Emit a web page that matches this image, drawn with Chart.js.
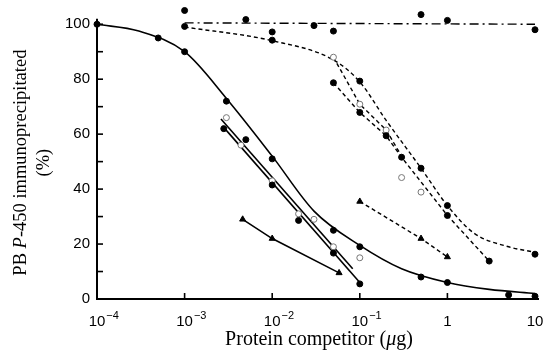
<!DOCTYPE html>
<html>
<head>
<meta charset="utf-8">
<script src="https://cdn.jsdelivr.net/npm/chart.js@4.4.1/dist/chart.umd.min.js"></script>
<style>
  html, body { margin: 0; background: #fff; }
  #wrap { width: 547px; height: 352px; }
</style>
</head>
<body>
<div id="wrap"><canvas id="chart"></canvas></div>
<script>
// --- data (x in µg, y in %) ---
// solid fitted curve + its filled points
const fitX = [1e-4, 3e-4, 1e-3, 3e-3, 1e-2, 3e-2, 0.1, 0.3, 1, 3, 10];
const fitY = [100, 97.5, 90, 73, 52, 32, 19.5, 11, 6, 3.5, 2];
const sigX = [1e-4, 5e-4, 1e-3, 3e-3, 5e-3, 1e-2, 5e-2, 0.1, 0.5, 1, 5, 10];
const sigY = [100, 95, 90, 72, 58, 51, 25, 19, 8, 6, 1.5, 1];

// solid straight lines
const lineAX = [2.7e-3, 0.1];
const lineAY = [63, 6];
const lineAPtsX = [2.8e-3, 1e-2, 2e-2, 5e-2, 0.1];
const lineAPtsY = [62, 41.5, 28.6, 16.7, 5.5];
const lineBX = [2.6e-3, 0.083];
const lineBY = [65.5, 11];
const openX = [3e-3, 4.4e-3, 1e-2, 2e-2, 3e-2, 5e-2, 0.1];
const openY = [66, 56, 43, 31, 29, 19, 15];
const triX = [4.6e-3, 1e-2, 0.058];
const triY = [29, 22, 9.5];

// dash-dot line at 100 %
const ddX = [1e-3, 10];
const ddY = [100.5, 100];
const ddPtsX = [1e-3, 5e-3, 1e-2, 3e-2, 5e-2, 0.5, 1, 10];
const ddPtsY = [105, 101.7, 97.2, 99.5, 97.5, 103.5, 101.4, 98];

// dashed curves
const dcX = [1e-3, 1e-2, 0.05, 0.1, 0.2, 0.5, 1, 2, 5, 10];
const dcY = [99, 94, 87, 79, 65, 47.6, 34, 24, 19, 17];
const dcPtsX = [1e-3, 1e-2, 0.1, 0.5, 1, 10];
const dcPtsY = [99.2, 94.2, 79.3, 47.6, 34, 16.3];
const daX = [0.05, 0.1, 0.2, 0.3, 1, 3];
const daY = [78.7, 67.9, 59.4, 51.6, 30.4, 13.8];
const dbX = [0.05, 0.1, 0.2, 0.3];
const dbY = [88, 70.9, 61.5, 52];
const dbOpenX = [0.05, 0.1, 0.2, 0.3, 0.5];
const dbOpenY = [88, 70.9, 61.5, 44.2, 38.9];
const dtX = [0.1, 0.5, 1];
const dtY = [35.5, 22, 15.3];

const xTicks = [1e-4, 1e-3, 1e-2, 1e-1, 1, 10];
const xTickBase = ['10', '10', '10', '10', '1', '10'];
const xTickExp = ['\u22124', '\u22123', '\u22122', '\u22121', '', ''];
const yTicks = [0, 10, 20, 30, 40, 50, 60, 70, 80, 90, 100];

const pts = (xs, ys) => xs.map((x, i) => ({ x, y: ys[i] }));

const line = (data, dash, extra) => Object.assign({
    data, borderColor: '#000', borderWidth: 1.6, borderDash: dash,
    pointRadius: 0, fill: false, clip: false, order: 2
}, extra || {});
const marks = (data, style, extra) => Object.assign({
    data, showLine: false, pointStyle: style, pointRadius: 3,
    pointBackgroundColor: '#000', pointBorderColor: '#000', pointBorderWidth: 1,
    clip: false, order: 1
}, extra || {});

const axesPlugin = {
    id: 'axesText',
    afterDraw(chart) {
        const ctx = chart.ctx;
        const xs = chart.scales.x, ys = chart.scales.y;
        const x0 = xs.left, y0 = ys.getPixelForValue(0);
        ctx.save();
        ctx.strokeStyle = '#000';
        // axis lines
        ctx.lineWidth = 2;
        ctx.beginPath();
        ctx.moveTo(x0, ys.getPixelForValue(102));
        ctx.lineTo(x0, y0);
        ctx.lineTo(xs.right + 4, y0);
        ctx.stroke();
        // inward ticks
        ctx.lineWidth = 1.6;
        xTicks.forEach(v => {
            const px = xs.getPixelForValue(v);
            ctx.beginPath(); ctx.moveTo(px, y0); ctx.lineTo(px, y0 - 6); ctx.stroke();
        });
        yTicks.forEach(v => {
            const py = ys.getPixelForValue(v);
            ctx.beginPath(); ctx.moveTo(x0, py); ctx.lineTo(x0 + 6, py); ctx.stroke();
        });
        // x tick labels with superscripts
        ctx.fillStyle = '#000';
        ctx.textBaseline = 'alphabetic';
        xTicks.forEach((v, i) => {
            const px = xs.getPixelForValue(v);
            ctx.font = '15px "Liberation Sans", Arial, sans-serif';
            const w = ctx.measureText(xTickBase[i]).width;
            ctx.textAlign = 'left';
            ctx.fillText(xTickBase[i], px - w / 2, y0 + 27);
            if (xTickExp[i]) {
                ctx.font = '11px "Liberation Sans", Arial, sans-serif';
                ctx.fillText(xTickExp[i], px + w / 2 + 1, y0 + 20);
            }
        });
        // titles, mixed roman / italic runs
        const drawRuns = (runs, cx, cy) => {
            let total = 0;
            runs.forEach(r => { ctx.font = r[1]; total += ctx.measureText(r[0]).width; });
            let x = cx - total / 2;
            ctx.textAlign = 'left';
            runs.forEach(r => { ctx.font = r[1]; ctx.fillText(r[0], x, cy); x += ctx.measureText(r[0]).width; });
        };
        const serif = '"Liberation Serif", "Times New Roman", serif';
        ctx.textBaseline = 'middle';
        drawRuns([
            ['Protein competitor (', '20px ' + serif],
            ['\u03bc', 'italic 20px ' + serif],
            ['g)', '20px ' + serif]
        ], (xs.left + xs.right) / 2 + 3, 340);
        ctx.translate(0, (ys.getPixelForValue(0) + ys.getPixelForValue(100)) / 2 + 1);
        ctx.rotate(-Math.PI / 2);
        drawRuns([
            ['PB ', '18.5px ' + serif],
            ['P', 'italic 18.5px ' + serif],
            ['-450 immunoprecipitated', '18.5px ' + serif]
        ], 0, 21);
        drawRuns([['(%)', '18.5px ' + serif]], 0, 44);
        ctx.restore();
    }
};

new Chart(document.getElementById('chart'), {
    type: 'line',
    data: {
        datasets: [
            line(pts(fitX, fitY), [], { cubicInterpolationMode: 'monotone' }),
            marks(pts(sigX, sigY), 'circle'),
            line(pts(lineAX, lineAY), []),
            marks(pts(lineAPtsX, lineAPtsY), 'circle'),
            line(pts(lineBX, lineBY), []),
            marks(pts(openX, openY), 'circle', { pointBackgroundColor: '#fff', pointBorderColor: '#777' }),
            line(pts(triX, triY), []),
            marks(pts(triX, triY), 'triangle', { pointRadius: 3.5 }),
            line(pts(ddX, ddY), [9, 4, 2, 4], { borderWidth: 1.4 }),
            marks(pts(ddPtsX, ddPtsY), 'circle'),
            line(pts(dcX, dcY), [4, 3], { cubicInterpolationMode: 'monotone', borderWidth: 1.4 }),
            marks(pts(dcPtsX, dcPtsY), 'circle'),
            line(pts(daX, daY), [4, 3], { borderWidth: 1.4 }),
            marks(pts(daX, daY), 'circle'),
            line(pts(dbX, dbY), [4, 3], { borderWidth: 1.4 }),
            marks(pts(dbOpenX, dbOpenY), 'circle', { pointBackgroundColor: '#fff', pointBorderColor: '#777' }),
            line(pts(dtX, dtY), [4, 3], { borderWidth: 1.4 }),
            marks(pts(dtX, dtY), 'triangle', { pointRadius: 3.5 })
        ]
    },
    options: {
        responsive: true,
        maintainAspectRatio: false,
        animation: false,
        layout: { padding: { left: 0, right: 12, top: 4, bottom: 0 } },
        plugins: { legend: { display: false }, tooltip: { enabled: false } },
        scales: {
            x: {
                type: 'logarithmic', min: 1e-4, max: 10,
                ticks: { display: false },
                grid: { display: false, drawTicks: false },
                border: { display: false },
                afterFit: s => { s.height = 53; s.paddingLeft = 0; s.paddingRight = 0; }
            },
            y: {
                min: 0, max: 107,
                ticks: {
                    stepSize: 20, includeBounds: false, color: '#000', padding: 7,
                    font: { family: '"Liberation Sans", Arial, sans-serif', size: 15 }
                },
                grid: { display: false, drawTicks: false },
                border: { display: false },
                afterFit: s => { s.width = 97; s.paddingTop = 0; s.paddingBottom = 0; }
            }
        }
    },
    plugins: [axesPlugin]
});
</script>
</body>
</html>
